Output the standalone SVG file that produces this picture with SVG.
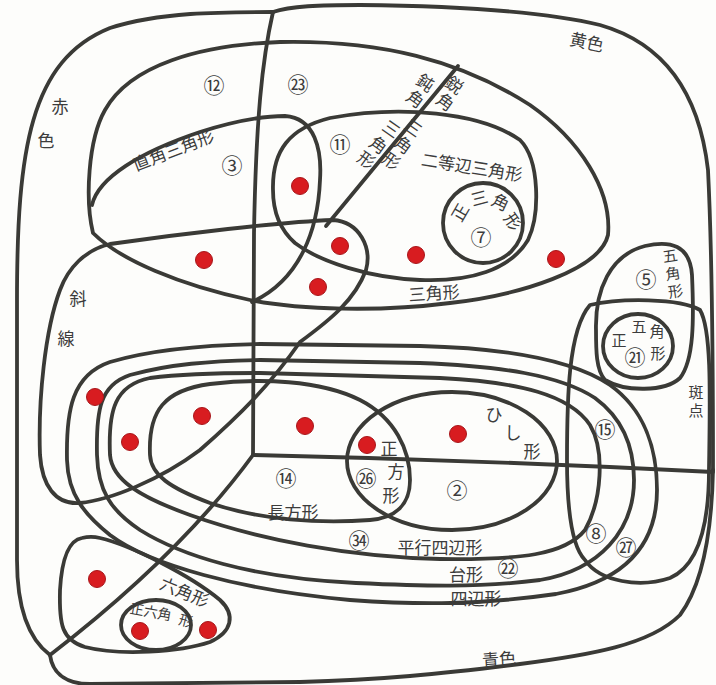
<svg xmlns="http://www.w3.org/2000/svg" width="716" height="685" viewBox="0 0 716 685">
<style>
.ln{fill:none;stroke:#3a3a36;stroke-width:3.8;stroke-linecap:round;stroke-linejoin:round}
.t{font-family:"Noto Sans CJK JP","Noto Sans CJK SC",sans-serif;font-size:17px;fill:#3c3c3c;text-anchor:middle;dominant-baseline:central}
.v{font-family:"Noto Sans CJK JP","Noto Sans CJK SC",sans-serif;font-size:15px;fill:#3c3c3c;text-anchor:middle;writing-mode:vertical-rl;letter-spacing:3px}
.s{font-size:14px}
.m{font-size:15px}
.n{font-family:"Noto Sans CJK JP","DejaVu Sans",sans-serif;font-size:21px;fill:#3c3c3c;text-anchor:middle;dominant-baseline:central}
.d{fill:#d81c20;stroke:#a8161a;stroke-width:1}
</style>
<rect width="716" height="685" fill="#fdfdfb"/>
<g id="frame">
<path class="ln" d="M 50,655 C 30,640 17,610 17,560 L 17,300 C 17,150 30,60 110,28 C 160,12 220,12 273,12"/>
<path class="ln" d="M 273,12 C 290,6 320,5 360,5 C 450,6 540,10 600,25 C 670,45 700,100 708,170 C 712,250 713,380 713,470"/>
<path class="ln" d="M 713,470 C 712,520 706,580 680,615 C 650,645 590,655 520,664 C 440,674 380,680 300,682 L 90,684 C 62,684 52,670 50,655"/>
<text class="t" x="60" y="105">赤</text>
<text class="t" x="46" y="139">色</text>
<text class="t" transform="translate(587,41) rotate(12)">黄色</text>
<text class="t" transform="translate(499,658) rotate(-4)">青色</text>
</g>
<g id="connectors">
<path class="ln" d="M 273,12 C 262,60 256,120 254,233 L 253,455"/>
<path class="ln" d="M 253,455 Q 480,460 713,472"/>
<path class="ln" d="M 253,455 Q 180,555 50,655"/>
<path class="ln" d="M 458,66 L 326,226"/>
</g>
<g id="triangle">
<path class="ln" d="M 93,233 C 85,200 88,140 105,110 C 130,65 200,45 280,42 C 380,40 460,60 530,105 C 580,140 612,190 608,235 C 600,270 520,295 450,303 C 380,312 300,310 250,300 C 180,285 120,260 93,233 Z"/>
<text class="t" transform="translate(434,292) rotate(-4)">三角形</text>
<text class="t" transform="translate(426,82) rotate(35)">鈍</text>
<text class="t" transform="translate(416,98) rotate(35)">角</text>
<text class="t" transform="translate(455,84) rotate(35)">鋭</text>
<text class="t" transform="translate(446,101) rotate(35)">角</text>
<text class="t" transform="translate(392,128) rotate(35)">三</text>
<text class="t" transform="translate(379,144) rotate(35)">角</text>
<text class="t" transform="translate(367,159) rotate(35)">形</text>
<text class="t" transform="translate(414,127) rotate(35)">三</text>
<text class="t" transform="translate(404,144) rotate(35)">角</text>
<text class="t" transform="translate(392,160) rotate(35)">形</text>
</g>
<g id="right-triangle">
<path class="ln" d="M 92,205 C 98,178 140,152 200,132 C 235,121 265,116 285,116 C 315,118 322,150 320,180 C 318,230 300,280 252,302"/>
<text class="t" transform="translate(173,149) rotate(-21)">直角三角形</text>
</g>
<g id="isosceles">
<path class="ln" d="M 273,190 C 272,150 290,128 330,118 C 400,105 480,112 520,140 C 540,160 540,215 528,240 C 510,270 470,282 420,280 C 370,278 320,262 295,243 C 278,228 273,210 273,190 Z"/>
<text class="t" transform="translate(472,166) rotate(9)">二等辺三角形</text>
</g>
<g id="equilateral">
<circle class="ln" cx="483" cy="223" r="40"/>
<text class="t" transform="translate(459,212) rotate(-60)">正</text>
<text class="t" transform="translate(479,197) rotate(-15)">三</text>
<text class="t" transform="translate(501,201) rotate(25)">角</text>
<text class="t" transform="translate(514,221) rotate(55)">形</text>
</g>
<g id="hatched">
<path class="ln" d="M 110,244 C 180,234 280,222 333,220 C 360,222 372,248 366,270 C 355,300 330,320 300,342 C 270,385 240,415 200,450 C 160,480 110,500 80,503 C 55,505 42,485 40,455 C 38,400 45,330 60,290 C 68,268 85,250 110,244 Z"/>
<text class="t" x="78" y="297">斜</text>
<text class="t" x="66" y="337">線</text>
</g>
<g id="quadrilateral">
<path class="ln" d="M 67,460 C 66,410 72,375 110,362 C 150,350 200,345 260,344 L 420,346 C 500,348 570,358 610,385 C 645,410 657,450 657,490 C 657,540 630,580 556,594 C 480,605 420,605 350,600 C 240,590 150,565 110,535 C 85,515 68,495 67,460 Z"/>
<text class="t" x="476" y="597">四辺形</text>
</g>
<g id="trapezoid">
<path class="ln" d="M 97,455 C 96,410 100,385 130,375 C 170,364 210,361 260,360 L 420,363 C 500,366 560,375 595,398 C 625,420 634,450 634,480 C 634,530 600,570 540,580 C 480,588 420,586 356,583 C 250,578 180,555 140,530 C 110,510 98,490 97,455 Z"/>
<text class="t" x="466" y="573">台形</text>
</g>
<g id="parallelogram">
<path class="ln" d="M 110,455 C 108,410 115,385 150,378 C 190,373 230,373 260,373 L 440,378 C 520,382 570,395 590,425 C 605,450 602,500 585,530 C 565,555 520,560 440,559 C 350,557 260,540 190,515 C 140,497 112,480 110,455 Z"/>
<text class="t" x="440" y="546">平行四辺形</text>
</g>
<g id="rectangle">
<path class="ln" d="M 150,455 C 148,410 165,390 210,384 C 260,378 320,380 360,400 C 395,418 410,450 410,480 C 410,505 395,518 370,520 C 320,524 260,520 210,503 C 170,488 151,475 150,455 Z"/>
<text class="t" x="293" y="511">長方形</text>
</g>
<g id="rhombus">
<ellipse class="ln" cx="452" cy="461" rx="105" ry="69"/>
<text class="t" x="494" y="413">ひ</text>
<text class="t" x="513" y="431">し</text>
<text class="t" x="532" y="450">形</text>
</g>
<g id="square">
<text class="t" x="389" y="447">正</text>
<text class="t" x="396" y="470">方</text>
<text class="t" x="391" y="494">形</text>
</g>
<g id="spotted">
<path class="ln" d="M 590,305 C 620,298 680,298 700,310 C 712,330 710,400 709,470 C 709,520 700,565 670,578 C 640,588 600,582 585,560 C 570,545 567,500 567,460 C 567,400 568,330 590,305 Z"/>
<text class="v" x="696" y="403">斑点</text>
</g>
<g id="pentagon">
<path class="ln" d="M 596,330 C 595,290 610,255 645,246 C 670,240 690,245 692,275 C 694,320 694,360 680,378 C 665,392 625,392 605,380 C 596,370 596,350 596,330 Z"/>
<text class="v" transform="translate(673,275) rotate(-9)">五角形</text>
</g>
<g id="regular-pentagon">
<ellipse class="ln" cx="638" cy="346" rx="35" ry="32"/>
<text class="t m" x="619" y="339">正</text>
<text class="t m" x="639" y="325">五</text>
<text class="t m" x="657" y="330">角</text>
<text class="t m" x="658" y="352">形</text>
</g>
<g id="hexagon">
<path class="ln" d="M 82,538 C 70,540 62,555 60,590 C 59,625 62,640 85,647 C 120,656 180,652 210,642 C 232,632 236,615 220,600 C 190,575 130,545 100,538 C 92,536 86,537 82,538 Z"/>
<text class="t" transform="translate(185,591) rotate(22)">六角形</text>
</g>
<g id="regular-hexagon">
<ellipse class="ln" cx="156" cy="625" rx="35" ry="25"/>
<text class="t s" transform="translate(151,611) rotate(10)">正六角</text>
<text class="t s" transform="translate(186,620) rotate(15)">形</text>
</g>
<g id="numbers">
<text class="n" x="214" y="84">⑫</text>
<text class="n" x="298" y="83">㉓</text>
<text class="n" x="232" y="164">③</text>
<text class="n" x="340" y="143">⑪</text>
<text class="n" x="481" y="236">⑦</text>
<text class="n" x="646" y="278">⑤</text>
<text class="n" x="635" y="356">㉑</text>
<text class="n" x="605" y="428">⑮</text>
<text class="n" x="286" y="477">⑭</text>
<text class="n" x="366" y="477">㉖</text>
<text class="n" x="457" y="489">②</text>
<text class="n" x="359" y="539">㉞</text>
<text class="n" x="596" y="532">⑧</text>
<text class="n" x="508" y="567">㉒</text>
<text class="n" x="626" y="546">㉗</text>
</g>
<g id="dots">
<circle class="d" cx="300" cy="186" r="8.5"/>
<circle class="d" cx="204" cy="260" r="8.5"/>
<circle class="d" cx="340" cy="246" r="8.5"/>
<circle class="d" cx="318" cy="287" r="8.5"/>
<circle class="d" cx="416" cy="255" r="8.5"/>
<circle class="d" cx="556" cy="259" r="8.5"/>
<circle class="d" cx="95" cy="397" r="8.5"/>
<circle class="d" cx="130" cy="442" r="8.5"/>
<circle class="d" cx="202" cy="416" r="8.5"/>
<circle class="d" cx="305" cy="426" r="8.5"/>
<circle class="d" cx="367" cy="445" r="8.5"/>
<circle class="d" cx="458" cy="434" r="8.5"/>
<circle class="d" cx="97" cy="579" r="8.5"/>
<circle class="d" cx="140" cy="631" r="8.5"/>
<circle class="d" cx="208" cy="630" r="8.5"/>
</g>
</svg>
